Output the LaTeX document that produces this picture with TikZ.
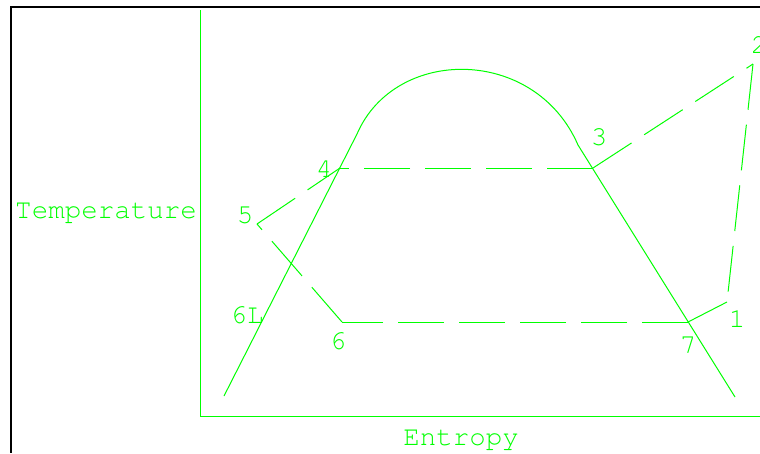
\documentclass[tikz,border=0pt]{standalone}
\usepackage[T1]{fontenc}
\renewcommand{\ttdefault}{pcr}
\definecolor{plotgreen}{RGB}{0,255,0}

\begin{document}
\begin{tikzpicture}[x=1pt,y=-1pt,
  lbl/.style={text=plotgreen,font=\ttfamily\fontsize{27.5}{30}\selectfont,inner sep=0pt,anchor=base},
  curve/.style={draw=plotgreen,line width=1pt},
  cyc/.style={curve,dash pattern=on 46pt off 15pt}]
\useasboundingbox (0,0) rectangle (760,453);
\draw[line width=2pt] (760,7) -| (11,453);
% axes and dome
\draw[curve] (200,10) |- (760,416);
\draw[curve] (224,396) -- (357,134) .. controls (395,46) and (535,46) .. (578,145) -- (735,397);
% cycle points
\coordinate (s1) at (727,302);
\coordinate (s2) at (753,64);
\coordinate (s3) at (593,168);
\coordinate (s4) at (340,168);
\coordinate (s5) at (257,224);
\coordinate (s6) at (342,322);
\coordinate (s7) at (688,322);
\draw[cyc] (s3)--(s2); \draw[cyc] (s2)--(s1);
\draw[cyc] (s7)--(s1); \draw[cyc] (s7)--(s6);
\draw[cyc] (s3)--(s4); \draw[cyc] (s5)--(s4);
\draw[cyc] (s6)--(s5);
% labels
\node[lbl] (tl) at (106,218) {Temperature};
\node[lbl] (el) at (461,445) {Entropy};
\node[lbl] (l1) at (737,327) {1};
\node[lbl] (l2) at (759,53) {2};
\node[lbl] (l3) at (599,145) {3};
\node[lbl] (l4) at (324,177) {4};
\node[lbl] (l5) at (245,223) {5};
\node[lbl] (l6l) at (247,323) {6L};
\node[lbl] (l6) at (338,349) {6};
\node[lbl] (l7) at (688,353) {7};
\end{tikzpicture}
\end{document}
